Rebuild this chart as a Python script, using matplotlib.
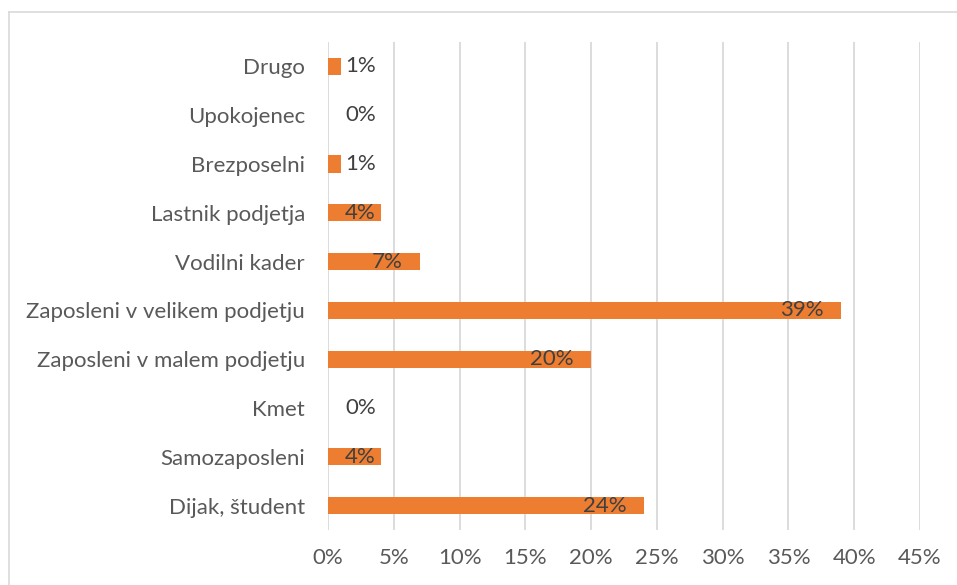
import matplotlib
matplotlib.use("Agg")
import matplotlib.pyplot as plt
from matplotlib.lines import Line2D

categories = ["Dijak, študent", "Samozaposleni", "Kmet", "Zaposleni v malem podjetju",
              "Zaposleni v velikem podjetju", "Vodilni kader", "Lastnik podjetja",
              "Brezposelni", "Upokojenec", "Drugo"]
values = [24, 4, 0, 20, 39, 7, 4, 1, 0, 1]
xticks = [0, 5, 10, 15, 20, 25, 30, 35, 40, 45]
xtick_labels = [f"{t}%" for t in xticks]

plt.rcParams['font.family'] = ['Lato', 'DejaVu Sans']
FS = 16

W, H = 957, 585
fig = plt.figure(figsize=(W / 100, H / 100), dpi=100)
ax = fig.add_axes([328 / W, (H - 530) / H, (920 - 328) / W, (530 - 42) / H])

ypos = list(range(len(categories)))
ax.barh(ypos, values, height=0.35, color="#ED7D31", edgecolor="none", zorder=3)

for y, v in zip(ypos, values):
    if v < 5:
        ax.text(1.3, y, f"{v}%", ha="left", va="center", fontsize=FS, color="#404040", zorder=4)
    else:
        ax.text(v - 1.3, y, f"{v}%", ha="right", va="center", fontsize=FS, color="#404040", zorder=4)

ax.set_xlim(0, 45)
ax.set_ylim(-0.5, len(categories) - 0.5)
ax.set_xticks(xticks)
ax.set_xticklabels(xtick_labels)
ax.set_yticks(ypos)
ax.set_yticklabels(categories)
ax.tick_params(axis="both", length=0, labelsize=FS, labelcolor="#595959")
ax.tick_params(axis="y", pad=16.5)
ax.tick_params(axis="x", pad=13)
ax.grid(axis="x", color="#D9D9D9", linewidth=1.3, zorder=0)
ax.grid(axis="y", visible=False)
for s in ax.spines.values():
    s.set_visible(False)

fig.add_artist(Line2D([9 / W, 1], [1 - 12 / H, 1 - 12 / H], transform=fig.transFigure, color="#D9D9D9", linewidth=1.2))
fig.add_artist(Line2D([9 / W, 9 / W], [0, 1 - 12 / H], transform=fig.transFigure, color="#D9D9D9", linewidth=1.2))

fig.savefig("out.png", dpi=100)
